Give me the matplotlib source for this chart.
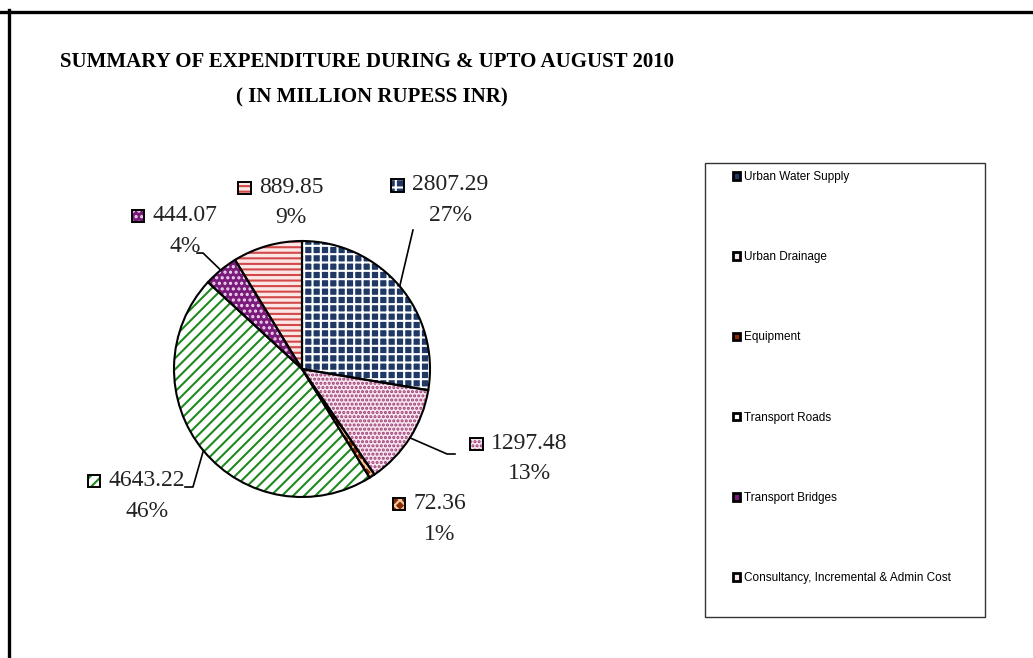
import matplotlib
matplotlib.use("Agg")
import numpy as np
import matplotlib.pyplot as plt
from matplotlib.patches import Rectangle, Patch
from matplotlib.lines import Line2D
from matplotlib.offsetbox import AnnotationBbox, DrawingArea, TextArea, HPacker, VPacker

categories = ["Urban Water Supply", "Urban Drainage", "Equipment",
              "Transport Roads", "Transport Bridges",
              "Consultancy, Incremental & Admin Cost"]
values = [2807.29, 1297.48, 72.36, 4643.22, 444.07, 889.85]
value_labels = ["2807.29", "1297.48", "72.36", "4643.22", "444.07", "889.85"]
pct_labels = ["27%", "13%", "1%", "46%", "4%", "9%"]

# styling
faces = ["#1f3864", "#f7e6f0", "#8b2a00", "white", "#7a1a7a", "#fde6e6"]
hatch_cols = ["white", "#9b3a70", "#f2c8a0", "#1f8a1f", "#f0d8f0", "#d04848"]
hatches = ["++", "....", "xxx", "///", "...", "---"]

# label layout (data units, pie radius = 1)
label_pos = [(1.07, 1.32), (1.69, -0.70), (0.99, -1.17),
             (-1.30, -0.99), (-1.00, 1.08), (-0.17, 1.30)]
# leader line bends/ends (None = no leader)
leaders = [[(0.867, 1.086)],
           [(1.133, -0.664), (1.195, -0.664)],
           None,
           [(-0.852, -0.922), (-0.914, -0.922)],
           [(-0.773, 0.906), (-0.82, 0.906)],
           None]

plt.rcParams["hatch.linewidth"] = 1.5
W, H = 1033, 658
fig = plt.figure(figsize=(W / 100, H / 100), dpi=100)

# axes placed so that the pie centre sits at (302, 369) px with radius 128 px
cx, cy, r = 302, 369, 128
x0, x1, ytop, ybot = 20, 700, 130, 650
ax = fig.add_axes([x0 / W, 1 - ybot / H, (x1 - x0) / W, (ybot - ytop) / H])

wedges, _ = ax.pie(values, startangle=90, counterclock=False, radius=1,
                   wedgeprops=dict(linewidth=0))
for w, fc, hc, h in zip(wedges, faces, hatch_cols, hatches):
    w.set_facecolor(fc)
    w.set_edgecolor(hc)
    w.set_hatch(h)
# outlines
ax.pie(values, startangle=90, counterclock=False, radius=1,
       wedgeprops=dict(fill=False, edgecolor="black", linewidth=1.5))

ax.set_xlim((x0 - cx) / r, (x1 - cx) / r)
ax.set_ylim((cy - ybot) / r, (cy - ytop) / r)
ax.set_aspect("equal", adjustable="box")
ax.axis("off")

# data labels with small pattern keys
for i, w in enumerate(wedges):
    da = DrawingArea(11, 16, 0, 0)
    da.add_artist(Rectangle((1, 3.5), 9, 9, facecolor=faces[i], edgecolor=hatch_cols[i],
                            hatch=hatches[i], linewidth=0))
    da.add_artist(Rectangle((1, 3.5), 9, 9, fill=False, edgecolor="black", linewidth=1.4))
    t1 = TextArea(value_labels[i], textprops=dict(family="Liberation Serif", size=17, color="#222222"))
    t2 = TextArea(pct_labels[i], textprops=dict(family="Liberation Serif", size=17, color="#222222"))
    col = VPacker(children=[t1, t2], align="center", sep=7, pad=0)
    box = HPacker(children=[da, col], align="top", sep=5, pad=0)
    ab = AnnotationBbox(box, label_pos[i], xycoords="data", frameon=False,
                        box_alignment=(0.5, 0.5), pad=0)
    ax.add_artist(ab)

    if leaders[i] is not None:
        mid = np.deg2rad((w.theta1 + w.theta2) / 2)
        pts = [(np.cos(mid), np.sin(mid))] + leaders[i]
        xs, ys = zip(*pts)
        ax.plot(xs, ys, color="black", linewidth=1.2, clip_on=False)

# title
fig.text(367 / W, 1 - 62 / H, "SUMMARY OF EXPENDITURE DURING & UPTO AUGUST 2010",
         ha="center", va="center", family="Liberation Serif", weight="bold", size=15)
fig.text(372 / W, 1 - 97 / H, "( IN MILLION RUPESS INR)",
         ha="center", va="center", family="Liberation Serif", weight="bold", size=15)

# legend box
fig.add_artist(Rectangle((705 / W, 1 - 617 / H), 280 / W, 454 / H, transform=fig.transFigure,
                         fill=False, edgecolor="#333333", linewidth=1.0))
handles = [Patch(facecolor=fc, edgecolor="black", linewidth=2.0) for fc in faces]
fig.legend(handles, categories, loc="upper left", bbox_to_anchor=(733 / W, 1 - 171 / H),
           bbox_transform=fig.transFigure, frameon=False,
           prop=dict(family="Liberation Sans", size=8.5),
           labelspacing=5.78, handlelength=0.6, handleheight=0.6, handletextpad=0.35,
           borderpad=0, borderaxespad=0)

# outer border (top and left)
fig.add_artist(Line2D([0, 1], [1 - 11.5 / H] * 2, color="black", linewidth=2.4,
                      transform=fig.transFigure))
fig.add_artist(Line2D([8.5 / W] * 2, [0, 1 - 10 / H], color="black", linewidth=2.4,
                      transform=fig.transFigure))

fig.savefig("out.png", dpi=100, facecolor="white")
